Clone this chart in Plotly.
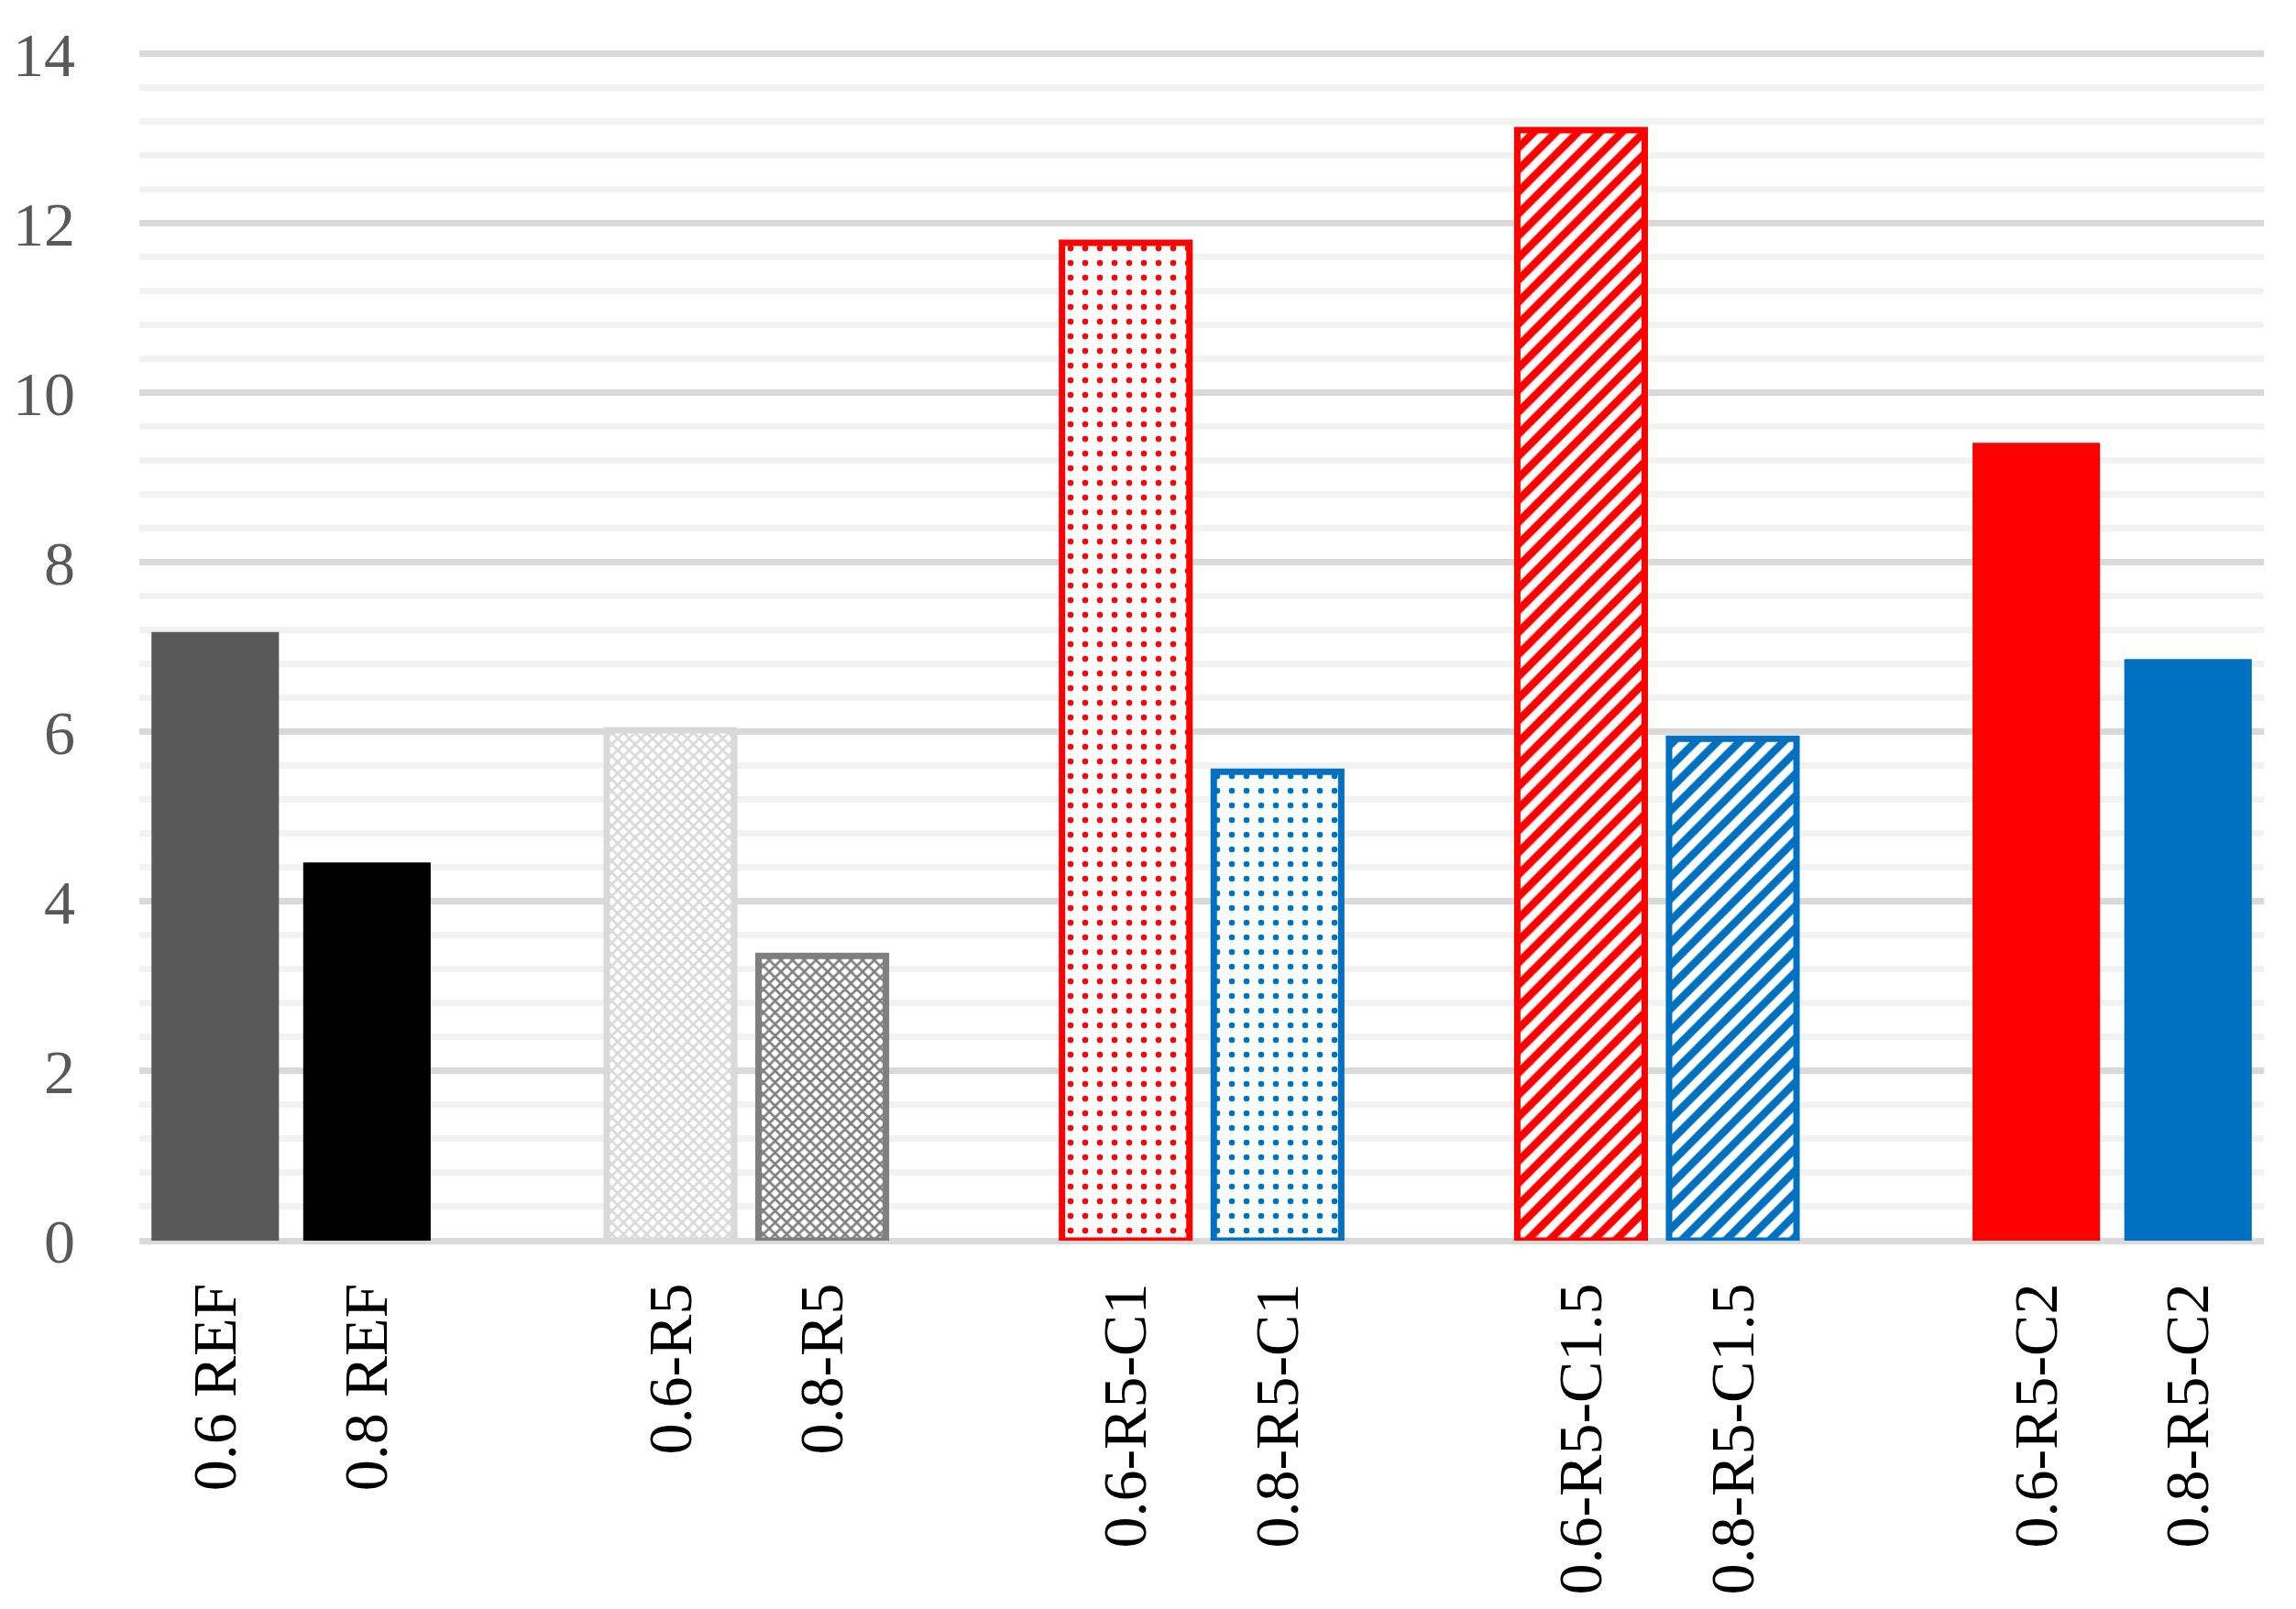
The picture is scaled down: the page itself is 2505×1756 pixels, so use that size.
import plotly.graph_objects as go

# categories (blank slots separate the groups)
categories = ["0.6 REF", "0.8 REF", " ",
              "0.6-R5", "0.8-R5", "  ",
              "0.6-R5-C1", "0.8-R5-C1", "   ",
              "0.6-R5-C1.5", "0.8-R5-C1.5", "    ",
              "0.6-R5-C2", "0.8-R5-C2"]
bar_labels = ["0.6 REF", "0.8 REF", "0.6-R5", "0.8-R5",
              "0.6-R5-C1", "0.8-R5-C1", "0.6-R5-C1.5", "0.8-R5-C1.5",
              "0.6-R5-C2", "0.8-R5-C2"]
values = [7.18, 4.46, 6.02, 3.36, 11.77, 5.53, 13.10, 5.92, 9.41, 6.86]

y_ticks = [0, 2, 4, 6, 8, 10, 12, 14]

# per-bar style: colour, pattern shape, pattern size, solidity, outline width
colors = ["#595959", "#000000", "#d9d9d9", "#7f7f7f",
          "#ff0000", "#0070c0", "#ff0000", "#0070c0",
          "#ff0000", "#0070c0"]
shapes = ["", "", "x", "x", ".", ".", "/", "/", "", ""]
sizes = [8, 8, 9, 9, 16, 16, 17, 17, 8, 8]
solid = [0.3, 0.3, 0.5, 0.5, 0.13, 0.13, 0.5, 0.5, 0.3, 0.3]
line_w = [0, 0, 7, 7, 7, 7, 7, 7, 0, 0]

fig = go.Figure()
for lab, val, col, shp, sz, so, lw in zip(bar_labels, values, colors, shapes, sizes, solid, line_w):
    if shp:
        marker = dict(color="#ffffff", line=dict(color=col, width=lw),
                      pattern=dict(shape=shp, fgcolor=col, bgcolor="#ffffff",
                                   size=sz, solidity=so, fgopacity=1))
    else:
        marker = dict(color=col, line=dict(width=0))
    fig.add_trace(go.Bar(x=[lab], y=[val], marker=marker, name=lab))

font = "Liberation Serif, Times New Roman, serif"
# the page body adds an 8px offset, margins compensate for it
fig.update_layout(
    width=2505, height=1756,
    margin=dict(l=144, r=43, t=47, b=410),
    plot_bgcolor="white", paper_bgcolor="white",
    barmode="overlay", bargap=0.16, showlegend=False,
    font=dict(family=font, size=68),
)
fig.update_xaxes(
    type="category", categoryorder="array", categoryarray=categories,
    tickangle=-90, tickfont=dict(family=font, size=68, color="#000000"),
    showgrid=False, showline=False, ticks="", ticklabelstandoff=32,
    automargin=False,
)
fig.update_yaxes(
    range=[0, 14.04], tickvals=y_ticks,
    tickfont=dict(family=font, size=68, color="#595959"),
    showgrid=True, gridcolor="#d9d9d9", gridwidth=7,
    minor=dict(dtick=0.4, showgrid=True, gridcolor="#f2f2f2", gridwidth=7),
    zeroline=True, zerolinecolor="#d9d9d9", zerolinewidth=7,
    showline=False, ticks="", ticklabelstandoff=69,
    automargin=False,
)

fig.write_html("out.html")
